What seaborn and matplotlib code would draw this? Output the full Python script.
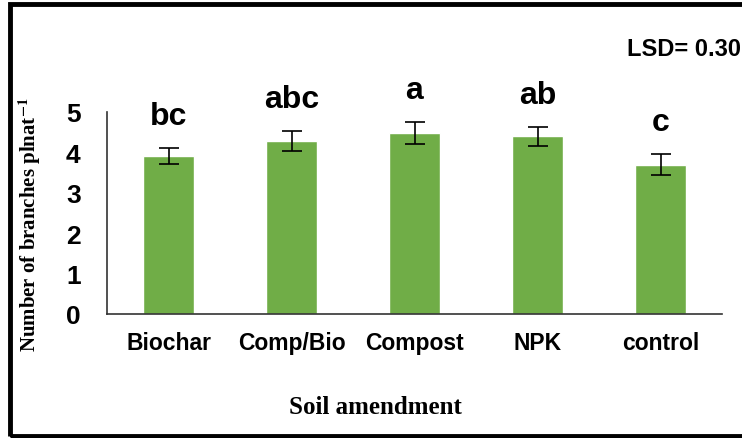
import matplotlib
matplotlib.use("Agg")
import matplotlib.pyplot as plt
import seaborn as sns
import pandas as pd
from matplotlib.patches import Rectangle

treatments = ["Biochar", "Comp/Bio", "Compost", "NPK", "control"]
means = [3.91, 4.28, 4.48, 4.40, 3.69]
errors = [0.20, 0.25, 0.27, 0.23, 0.26]
letters = ["bc", "abc", "a", "ab", "c"]
lsd_text = "LSD= 0.30"

df = pd.DataFrame({"treatment": treatments, "mean": means})

sns.set_style("white")
plt.rcParams["font.family"] = ["Liberation Sans", "DejaVu Sans"]
plt.rcParams["text.color"] = "black"
plt.rcParams["xtick.color"] = "black"
plt.rcParams["ytick.color"] = "black"
plt.rcParams["mathtext.fontset"] = "stix"

fig = plt.figure(figsize=(7.42, 4.39), dpi=100)
ax = fig.add_axes([107 / 742, 1 - 315 / 439, (722 - 107) / 742, (315 - 113) / 439])

sns.barplot(data=df, x="treatment", y="mean", color="#70AD47", width=0.415,
            saturation=1, errorbar=None, ax=ax)
ax.errorbar(range(len(treatments)), means, yerr=errors, fmt="none",
            ecolor="black", elinewidth=1.2, capsize=7, capthick=1.2)

for i, (m, e, lab) in enumerate(zip(means, errors, letters)):
    ax.text(i, m + e + 0.6, lab, ha="center", va="baseline",
            fontsize=23, fontweight="bold")

ax.set_xlim(-0.5, 4.5)
ax.set_ylim(0, 5)
ax.set_yticks([0, 1, 2, 3, 4, 5])
ax.tick_params(axis="y", labelsize=19, pad=19, length=0)
ax.tick_params(axis="x", labelsize=16.5, pad=12, length=0)
for t in ax.get_xticklabels() + ax.get_yticklabels():
    t.set_fontweight("bold")

for s in ["top", "right"]:
    ax.spines[s].set_visible(False)
for s in ["left", "bottom"]:
    ax.spines[s].set_color("#333333")
    ax.spines[s].set_linewidth(1.2)

ax.set_xlabel("")
ax.set_ylabel("")
fig.text(375 / 742, 1 - 408 / 439, "Soil amendment", ha="center", va="center",
         fontsize=18, fontweight="bold", family="Liberation Serif")
fig.text(30 / 742, 1 - 225 / 439, r"Number of branches plnat$^{\mathbf{-1}}$",
         ha="center", va="center", rotation=90, fontsize=15,
         fontweight="bold", family="Liberation Serif")
fig.text(684 / 742, 1 - 50 / 439, lsd_text, ha="center", va="center",
         fontsize=17, fontweight="bold")

fig.patches.append(Rectangle((10 / 742, 2 / 439), 760 / 742, 432 / 439,
                             transform=fig.transFigure, fill=False,
                             edgecolor="black", linewidth=3.5))

fig.savefig("out.png", dpi=100)
